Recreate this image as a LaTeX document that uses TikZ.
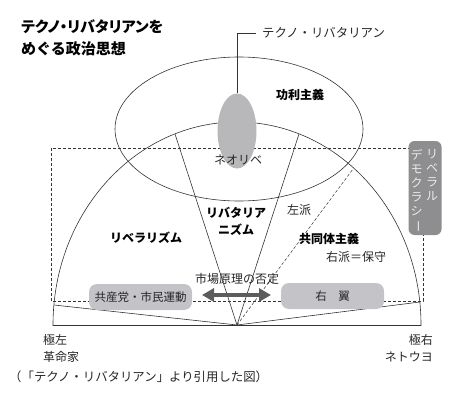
\documentclass[tikz,border=0pt]{standalone}
\usepackage{fontspec}
\setmainfont{Noto Sans CJK JP}
\usepackage{graphicx}
\usetikzlibrary{arrows.meta}
\definecolor{lncol}{HTML}{333333}
\definecolor{ellgray}{HTML}{B8B8BA}
\definecolor{boxgray}{HTML}{C4C4C8}
\definecolor{ldgray}{HTML}{8E8E90}
\definecolor{arrgray}{HTML}{5C5C5C}
\begin{document}
\begin{tikzpicture}[x=1pt,y=-1pt,
  ln/.style={draw=lncol, line width=0.6pt},
  dsh/.style={draw=lncol, line width=0.5pt, dash pattern=on 3pt off 2pt},
  lbl/.style={inner sep=0pt, text=black!85, font=\fontsize{12}{14}\selectfont},
  blbl/.style={inner sep=0pt, text=black, font=\fontsize{12}{14}\selectfont\bfseries},
  ttl/.style={inner sep=0pt, anchor=west, font=\fontsize{15}{16}\selectfont\bfseries},
  pill/.style={fill=boxgray, rounded corners=8pt, inner sep=0pt, text=black!85,
    font=\fontsize{11.5}{14}\selectfont},
  ldtxt/.style={inner sep=0pt, align=center, text=white!92!black,
    font=\fontsize{12}{13.8}\selectfont, anchor=north}]
\useasboundingbox (0,0) rectangle (462,406);
% dashed frame
\draw[dsh] (51,148) rectangle (423,301);
% big half ellipse
\begin{scope}
  \clip (0,0) rectangle (462,325);
  \draw[ln] (237,325) ellipse [x radius=184, y radius=203];
\end{scope}
\draw[ln] (53,325) -- (421,325);
% upper ellipse
\draw[ln] (239,129) ellipse [x radius=124, y radius=72];
% radial lines
\coordinate (apex) at (237,325);
\coordinate (ul) at (175,134);
\coordinate (ur) at (299,134);
\coordinate (lb) at (54,305);
\coordinate (rb) at (420,302);
\coordinate (dl) at (353,169);
\draw[ln] (apex) -- (ul);
\draw[ln] (apex) -- (ur);
\draw[ln] (apex) -- (lb);
\draw[ln] (apex) -- (rb);
\draw[dsh] (apex) -- (dl);
% gray ellipse
\fill[ellgray] (237,131) ellipse [x radius=19.5, y radius=37.5];
\coordinate (etop) at (237,93.5);
\coordinate (tlend) at (256,33);
\draw[ln] (etop) |- (tlend);
\node[lbl, anchor=west, font=\fontsize{12.4}{14}\selectfont] (tl) at (262,33) {テクノ・リバタリアン};
% title
\node[ttl] (t1) at (21,26.5) {\addfontfeatures{RawFeature=+palt}テクノ・リバタリアンを};
\node[ttl] (t2) at (21,49) {めぐる政治思想};
% labels
\node[lbl] (neo) at (238,160) {ネオリベ};
\node[blbl] (kouri) at (300,95) {功利主義};
\node[blbl, align=center, font=\fontsize{12}{17}\selectfont\bfseries] (liber) at (236,221.5) {リバタリア\\ニズム};
\node[blbl] (libera) at (146,238) {リベラリズム};
\node[lbl] (sa) at (299,210) {左派};
\node[blbl] (kyodo) at (329,239) {共同体主義};
\node[lbl] (uha) at (356,257) {右派＝保守};
\node[lbl] (shijo) at (237,279) {市場原理の否定};
% pills
\node[pill, minimum width=103pt, minimum height=26pt] (kyo) at (140.5,297) {共産党・市民運動};
\node[pill, minimum width=103pt, minimum height=26pt] (uyoku) at (332.5,296) {右\hspace{1em}翼};
% arrow
\coordinate (al) at (202,295);
\coordinate (ar) at (271,295);
\draw[arrgray, line width=4.5pt, {Triangle[length=12pt,width=13pt]}-{Triangle[length=12pt,width=13pt]}] (al) -- (ar);
% liberal democracy box
\node[fill=ldgray, rounded corners=6pt, minimum width=33pt, minimum height=94pt, inner sep=0pt] (ld) at (425,188) {};
\node[ldtxt] (ld1) at (432,149.5) {リ\\ベ\\ラ\\ル};
\node[ldtxt] (ld2) at (416.5,149.5) {デ\\モ\\ク\\ラ\\シ\\\rotatebox[origin=c]{-90}{ー}};
% extremes
\node[lbl, anchor=west] (kyokusa) at (43,340) {極左};
\node[lbl, anchor=west] (kakumei) at (43,357) {革命家};
\node[lbl, anchor=east] (kyokuu) at (433,340) {極右};
\node[lbl, anchor=east] (netouyo) at (433,357) {ネトウヨ};
% caption
\node[lbl, anchor=west, font=\fontsize{12.4}{14}\selectfont] (cap) at (9,377) {（「テクノ・リバタリアン」より引用した図）};
\end{tikzpicture}
\end{document}
